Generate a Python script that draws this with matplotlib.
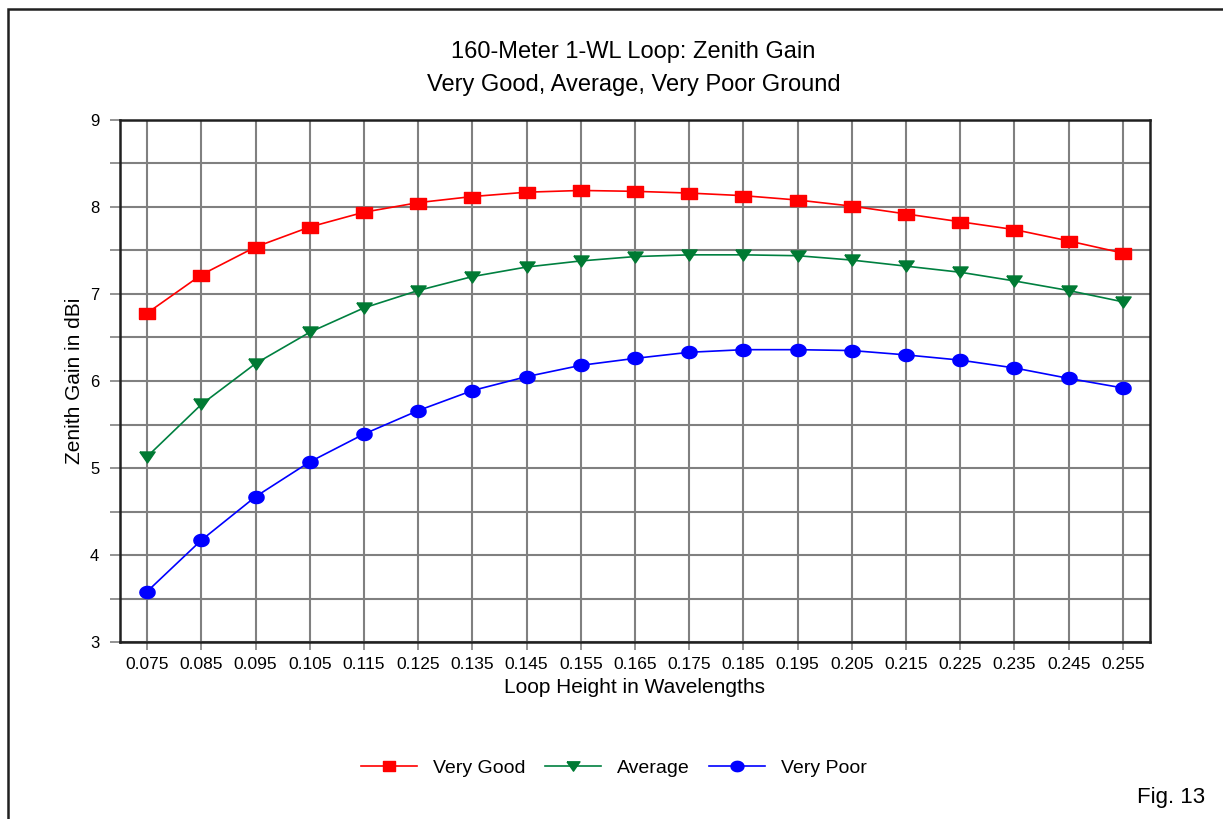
import matplotlib
matplotlib.use("Agg")
import numpy as np
import matplotlib.pyplot as plt
from matplotlib.patches import Rectangle

plt.rcParams['font.family'] = ['Liberation Sans', 'DejaVu Sans']

# Loop height (wavelengths) and zenith gain (dBi) for three ground types
heights = [0.075, 0.085, 0.095, 0.105, 0.115, 0.125, 0.135, 0.145, 0.155, 0.165,
           0.175, 0.185, 0.195, 0.205, 0.215, 0.225, 0.235, 0.245, 0.255]
very_good = [6.78, 7.22, 7.54, 7.77, 7.94, 8.05, 8.12, 8.17, 8.19, 8.18,
             8.16, 8.13, 8.08, 8.01, 7.92, 7.83, 7.74, 7.61, 7.47]
average = [5.13, 5.73, 6.20, 6.56, 6.84, 7.04, 7.20, 7.31, 7.38, 7.43,
           7.45, 7.45, 7.44, 7.39, 7.32, 7.25, 7.15, 7.04, 6.91]
very_poor = [3.58, 4.17, 4.67, 5.07, 5.39, 5.66, 5.89, 6.05, 6.18, 6.26,
             6.33, 6.36, 6.36, 6.35, 6.30, 6.24, 6.15, 6.03, 5.92]
tick_labels = ["%.3f" % h for h in heights]

# squat marker shapes (wider than tall)
m_square = [(-1, -0.72), (1, -0.72), (1, 0.72), (-1, 0.72), (-1, -0.72)]
m_tri = [(-1, 0.72), (1, 0.72), (0, -0.72), (-1, 0.72)]
t = np.linspace(0, 2 * np.pi, 25)
m_oval = list(zip(np.cos(t), 0.8 * np.sin(t)))

fig = plt.figure(figsize=(12.23, 8.19), dpi=100)
ax = fig.add_axes([0.0981, 0.2161, 0.8422, 0.6374])

ax.plot(heights, very_good, color='#ff0000', lw=1.2, marker=m_square, ms=11,
        label='Very Good', zorder=3)
ax.plot(heights, average, color='#008040', lw=1.2, marker=m_tri, ms=11,
        mfc='#007a33', mec='#007a33', label='Average', zorder=3)
ax.plot(heights, very_poor, color='#0000ff', lw=1.2, marker=m_oval, ms=11,
        label='Very Poor', zorder=3)

ax.set_xlim(0.070, 0.260)
ax.set_ylim(3, 9)
ax.set_xticks(heights)
ax.set_xticklabels(tick_labels, fontsize=12.5)
ax.set_yticks(range(3, 10))
ax.set_yticks([y + 0.5 for y in range(3, 9)], minor=True)
ax.tick_params(axis='y', which='both', labelsize=12, length=7, width=1.2,
               color='#808080', pad=8)
ax.tick_params(axis='x', length=6, width=1.2, color='#808080', pad=5)
ax.grid(True, which='both', color='#808080', lw=1.5)
ax.set_axisbelow(True)
for s in ax.spines.values():
    s.set_linewidth(1.8)
    s.set_color('#202020')

ax.set_xlabel('Loop Height in Wavelengths', fontsize=15, labelpad=4)
ax.set_ylabel('Zenith Gain in dBi', fontsize=15, labelpad=4)

fig.text(0.518, 0.937, '160-Meter 1-WL Loop: Zenith Gain', ha='center',
         va='center', fontsize=17)
fig.text(0.518, 0.896, 'Very Good, Average, Very Poor Ground', ha='center',
         va='center', fontsize=17)

leg = fig.legend(loc='center', bbox_to_anchor=(0.502, 0.062), ncol=3,
                 frameon=False, fontsize=14, handlelength=2.9,
                 handletextpad=0.8, columnspacing=1.0, markerscale=0.85)

fig.text(0.985, 0.026, 'Fig. 13', ha='right', va='center', fontsize=16)

# outer frame
fig.patches.append(Rectangle((8 / 1223, -0.05), 1.1, 1.05 - 9 / 819,
                             transform=fig.transFigure, fill=False,
                             ec='#202020', lw=1.8))

fig.savefig('out.png', dpi=100)
